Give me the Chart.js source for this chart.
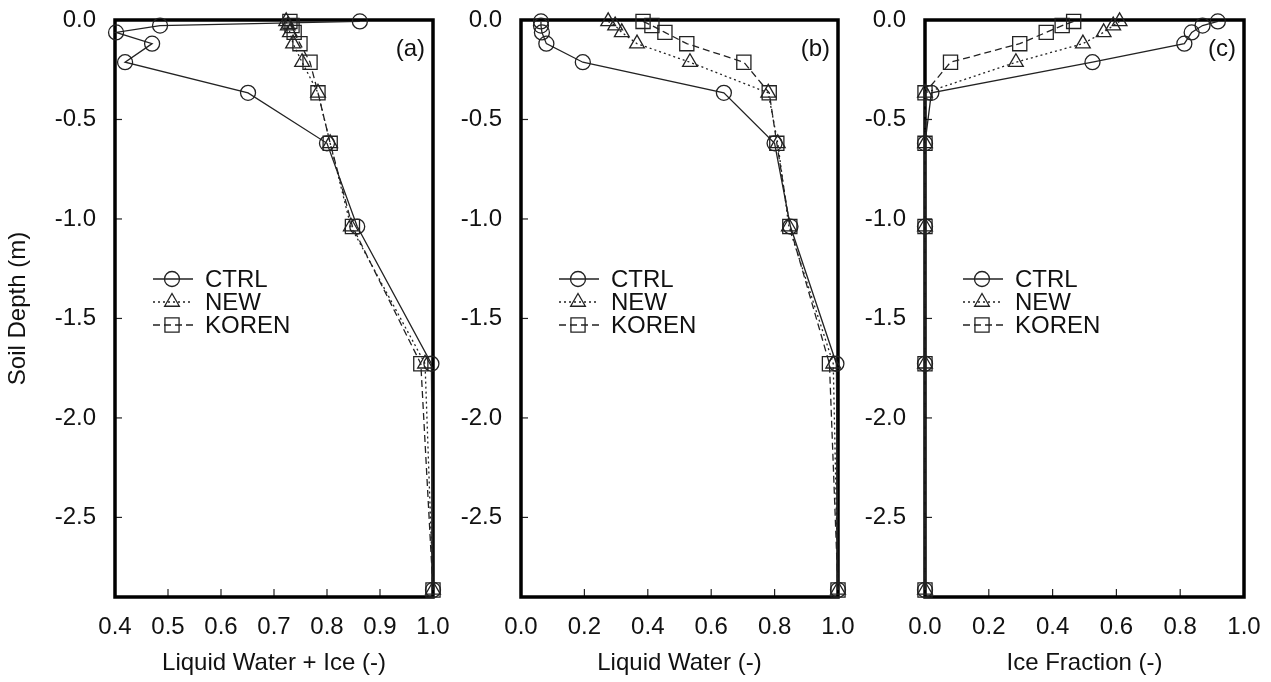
<!DOCTYPE html>
<html><head><meta charset="utf-8">
<script src="https://cdn.jsdelivr.net/npm/chart.js@4.4.0/dist/chart.umd.min.js"></script>
<style>
html,body{margin:0;padding:0;background:#fff;}
#wrap{position:relative;width:1271px;height:682px;overflow:hidden;background:#fff;}
canvas{position:absolute;top:0;}
</style></head><body>
<div id="wrap">
<canvas id="ca" width="460" height="682" style="left:0px"></canvas>
<canvas id="cb" width="440" height="682" style="left:424px"></canvas>
<canvas id="cc" width="443" height="682" style="left:828px"></canvas>
</div>
<script>
// ---- data ----
const depths = [-0.0071, -0.0279, -0.0623, -0.1189, -0.2122, -0.3661, -0.6198, -1.0380, -1.7276, -2.8646];
const seriesNames = ['CTRL', 'NEW', 'KOREN'];

const totalCTRL  = [0.862, 0.485, 0.402, 0.470, 0.419, 0.651, 0.800, 0.857, 0.997, 1.000];
const totalNEW   = [0.723, 0.726, 0.730, 0.736, 0.753, 0.783, 0.806, 0.845, 0.985, 1.000];
const totalKOREN = [0.730, 0.734, 0.738, 0.749, 0.768, 0.783, 0.806, 0.848, 0.977, 1.000];

const liquidCTRL  = [0.063, 0.063, 0.066, 0.080, 0.195, 0.640, 0.800, 0.850, 0.995, 1.000];
const liquidNEW   = [0.275, 0.297, 0.318, 0.366, 0.533, 0.780, 0.810, 0.845, 0.985, 1.000];
const liquidKOREN = [0.385, 0.413, 0.454, 0.523, 0.703, 0.783, 0.807, 0.848, 0.973, 1.000];

const iceCTRL  = [0.918, 0.870, 0.836, 0.813, 0.525, 0.020, 0.000, 0.000, 0.000, 0.000];
const iceNEW   = [0.610, 0.590, 0.560, 0.495, 0.285, 0.000, 0.000, 0.000, 0.000, 0.000];
const iceKOREN = [0.466, 0.430, 0.380, 0.297, 0.080, 0.000, 0.000, 0.000, 0.000, 0.000];

const yTicks  = [0.0, -0.5, -1.0, -1.5, -2.0, -2.5];
const xTicksA = [0.4, 0.5, 0.6, 0.7, 0.8, 0.9, 1.0];
const xTicksB = [0.0, 0.2, 0.4, 0.6, 0.8, 1.0];

const xTitles = ['Liquid Water + Ice (-)', 'Liquid Water (-)', 'Ice Fraction (-)'];
const panelLabels = ['(a)', '(b)', '(c)'];
const yTitle = 'Soil Depth (m)';

// ---- styling ----
const FONT = '"Liberation Sans", Arial, Helvetica, sans-serif';
const FSIZE = 24;
const INK = '#111';
Chart.defaults.font.family = FONT;
Chart.defaults.font.size = FSIZE;
Chart.defaults.color = INK;

const styles = [
  { pointStyle: 'circle',   dash: [],     lw: 1.3, r: 7.5 },
  { pointStyle: 'triangle', dash: [2, 3], lw: 1.3, r: 8.5 },
  { pointStyle: 'rect',     dash: [7, 4], lw: 1.3, r: 10 }
];

function makeDatasets(arrs) {
  return arrs.map((vals, i) => ({
    label: seriesNames[i],
    data: vals.map((v, k) => ({ x: v, y: depths[k] })),
    showLine: true,
    borderColor: '#222',
    borderWidth: styles[i].lw,
    borderDash: styles[i].dash,
    pointStyle: styles[i].pointStyle,
    pointRadius: styles[i].r,
    pointBorderWidth: 1.3,
    pointBorderColor: '#222',
    pointBackgroundColor: 'rgba(0,0,0,0)',
    clip: false,
    order: 3 - i
  }));
}

const framePlugin = {
  id: 'frame',
  beforeDatasetsDraw(chart, args, opts) {
    const ctx = chart.ctx, a = chart.chartArea;
    ctx.save();
    ctx.strokeStyle = '#222';
    ctx.lineWidth = 1.2;
    const ys = chart.scales.y, xs = chart.scales.x;
    ys.ticks.forEach(t => {
      const p = ys.getPixelForValue(t.value);
      if (p > a.top + 2 && p < a.bottom - 2) {
        ctx.beginPath(); ctx.moveTo(a.left, p); ctx.lineTo(a.left + 7, p); ctx.stroke();
      }
    });
    xs.ticks.forEach(t => {
      const p = xs.getPixelForValue(t.value);
      if (p > a.left + 2 && p < a.right - 2) {
        ctx.beginPath(); ctx.moveTo(p, a.bottom); ctx.lineTo(p, a.bottom - 8); ctx.stroke();
      }
    });
    ctx.strokeStyle = '#000';
    ctx.lineWidth = 3.5;
    ctx.strokeRect(a.left, a.top, a.right - a.left, a.bottom - a.top);
    ctx.restore();
  },
  afterDraw(chart, args, opts) {
    const ctx = chart.ctx, a = chart.chartArea;
    ctx.save();
    ctx.font = FSIZE + 'px ' + FONT;
    ctx.fillStyle = INK;
    ctx.textAlign = 'right';
    ctx.textBaseline = 'middle';
    ctx.fillText(opts.label, a.right - 8, a.top + 29);
    chart.data.datasets.forEach((ds, i) => {
      const y = a.top + 259 + i * 23;
      const x0 = a.left + 38, x1 = a.left + 78, xc = a.left + 57;
      ctx.strokeStyle = ds.borderColor;
      ctx.lineWidth = ds.borderWidth;
      ctx.setLineDash(ds.borderDash);
      ctx.beginPath(); ctx.moveTo(x0, y); ctx.lineTo(x1, y); ctx.stroke();
      ctx.setLineDash([]);
      ctx.fillStyle = 'rgba(0,0,0,0)';
      ctx.strokeStyle = ds.pointBorderColor;
      ctx.lineWidth = ds.pointBorderWidth;
      Chart.helpers.drawPoint(ctx, {
        pointStyle: ds.pointStyle, radius: ds.pointRadius, borderWidth: ds.pointBorderWidth, rotation: 0
      }, xc, y);
      ctx.fillStyle = INK;
      ctx.textAlign = 'left';
      ctx.textBaseline = 'middle';
      ctx.fillText(ds.label, a.left + 90, y + 1);
    });
    ctx.restore();
  }
};

function makeChart(id, arrs, xmin, xmax, xTicks, idx, yWidth, padRight) {
  return new Chart(document.getElementById(id), {
    type: 'scatter',
    data: { datasets: makeDatasets(arrs) },
    options: {
      responsive: false,
      animation: false,
      events: [],
      layout: { padding: { top: 20, right: padRight, left: 0, bottom: 0 } },
      plugins: {
        legend: { display: false },
        tooltip: { enabled: false },
        frame: { label: panelLabels[idx] }
      },
      scales: {
        x: {
          type: 'linear', min: xmin, max: xmax,
          afterBuildTicks: s => { s.ticks = xTicks.map(v => ({ value: v })); },
          afterFit: s => { s.height = 85; s.paddingLeft = 0; s.paddingRight = 0; },
          grid: { display: false, drawTicks: false },
          border: { display: false },
          ticks: { padding: 16, color: INK, callback: v => Number(v).toFixed(1), maxRotation: 0, autoSkip: false },
          title: { display: true, text: xTitles[idx], color: INK, padding: { top: 4, bottom: 4 } }
        },
        y: {
          type: 'linear', min: -2.9, max: 0,
          afterBuildTicks: s => { s.ticks = yTicks.map(v => ({ value: v })); },
          afterFit: s => { s.width = yWidth; s.paddingTop = 0; s.paddingBottom = 0; },
          grid: { display: false, drawTicks: false },
          border: { display: false },
          ticks: { padding: 19, color: INK, callback: v => Number(v).toFixed(1), autoSkip: false },
          title: { display: idx === 0, text: yTitle, color: INK, padding: { top: 4, bottom: 4 } }
        }
      }
    },
    plugins: [framePlugin]
  });
}

makeChart('ca', [totalCTRL, totalNEW, totalKOREN], 0.4, 1.0, xTicksA, 0, 115, 27);
makeChart('cb', [liquidCTRL, liquidNEW, liquidKOREN], 0.0, 1.0, xTicksB, 1, 97, 26);
makeChart('cc', [iceCTRL, iceNEW, iceKOREN], 0.0, 1.0, xTicksB, 2, 97, 27);
</script>
</body></html>
